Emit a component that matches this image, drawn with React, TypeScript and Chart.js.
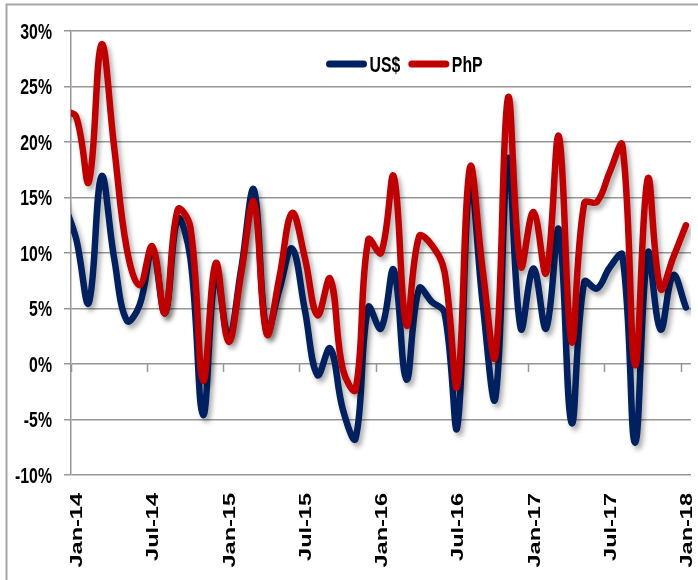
import React, { useEffect, useRef } from 'react';
import { Chart, registerables } from 'chart.js';

Chart.register(...registerables);

// Monthly categories (data points sit mid-month; Dec-13 lies just left of the plot edge)
const MONTHS = [
  'Dec-13',
  'Jan-14', 'Feb-14', 'Mar-14', 'Apr-14', 'May-14', 'Jun-14', 'Jul-14', 'Aug-14', 'Sep-14', 'Oct-14', 'Nov-14', 'Dec-14',
  'Jan-15', 'Feb-15', 'Mar-15', 'Apr-15', 'May-15', 'Jun-15', 'Jul-15', 'Aug-15', 'Sep-15', 'Oct-15', 'Nov-15', 'Dec-15',
  'Jan-16', 'Feb-16', 'Mar-16', 'Apr-16', 'May-16', 'Jun-16', 'Jul-16', 'Aug-16', 'Sep-16', 'Oct-16', 'Nov-16', 'Dec-16',
  'Jan-17', 'Feb-17', 'Mar-17', 'Apr-17', 'May-17', 'Jun-17', 'Jul-17', 'Aug-17', 'Sep-17', 'Oct-17', 'Nov-17', 'Dec-17',
  'Jan-18',
];

const US_DOLLAR = [
  14.6,
  11.3, 5.5, 16.9, 9.5, 3.9, 5.3, 10.2, 4.6, 13.1, 9.5, -4.6, 8.3,
  2.5, 8.6, 15.7, 2.9, 6.7, 10.4, 4.9, -1.0, 1.4, -4.1, -6.7, 5.1,
  3.2, 8.5, -1.4, 6.8, 5.6, 4.6, -5.7, 16.6, 5.5, -3.1, 18.5, 3.2,
  8.6, 3.2, 12.1, -5.3, 7.4, 6.8, 8.7, 9.8, -7.1, 10.0, 3.1, 8.0,
  5.1,
];

const PHP = [
  22.8,
  22.3, 16.4, 28.8, 19.5, 10.3, 7.1, 10.6, 4.6, 13.9, 12.3, -1.5, 9.1,
  2.0, 8.2, 14.6, 2.7, 7.8, 13.6, 9.6, 4.4, 7.7, -0.5, -2.3, 11.2,
  10.0, 16.9, 3.5, 11.5, 10.7, 8.3, -2.0, 17.7, 8.5, 0.7, 24.0, 8.8,
  13.7, 8.2, 20.5, 2.0, 14.5, 14.6, 17.3, 19.7, -0.1, 16.7, 6.8, 9.6,
  12.5,
];

const X_TICK_LABELS = ['Jan-14', 'Jul-14', 'Jan-15', 'Jul-15', 'Jan-16', 'Jul-16', 'Jan-17', 'Jul-17', 'Jan-18'];
const Y_TICKS = [-10, -5, 0, 5, 10, 15, 20, 25, 30];

const SERIES_NAMES = ['US$', 'PhP'];
const SERIES_COLORS = ['#002060', '#C00000'];

const FONT = '"Liberation Sans", Arial, sans-serif';
const SQUASH = 0.72;
const GRID = '#969696';

const decorPlugin = {
  id: 'decor',
  beforeDraw(chart: any) {
    const ctx = chart.ctx;
    ctx.save();
    ctx.strokeStyle = '#a6a6a6';
    ctx.lineWidth = 2;
    ctx.beginPath();
    ctx.moveTo(6.5, chart.height);
    ctx.lineTo(6.5, 4.5);
    ctx.lineTo(chart.width, 4.5);
    ctx.stroke();
    ctx.restore();
  },
  beforeDatasetDraw(chart: any) {
    const ctx = chart.ctx;
    ctx.save();
    ctx.shadowColor = 'rgba(0,0,0,0.32)';
    ctx.shadowBlur = 5;
    ctx.shadowOffsetX = 3;
    ctx.shadowOffsetY = 4;
  },
  afterDatasetDraw(chart: any) {
    chart.ctx.restore();
  },
  beforeDatasetsDraw(chart: any) {
    // x-axis tick marks on the 0% line, at month starts
    const ctx = chart.ctx;
    const xs = chart.scales.x;
    const ys = chart.scales.y;
    const y0 = ys.getPixelForValue(0);
    ctx.save();
    ctx.strokeStyle = GRID;
    ctx.lineWidth = 1.5;
    X_TICK_LABELS.forEach((lab) => {
      const idx = MONTHS.indexOf(lab);
      const px = Math.round(xs.getPixelForValue(idx - 0.42)) + 0.5;
      ctx.beginPath();
      ctx.moveTo(px, y0);
      ctx.lineTo(px, y0 + 8);
      ctx.stroke();
    });
    ctx.restore();
  },
  afterDraw(chart: any) {
    const ctx = chart.ctx;
    const xs = chart.scales.x;
    const ys = chart.scales.y;
    const area = chart.chartArea;
    const size = 22;
    const cap = 0.716 * size;

    // y labels
    ctx.save();
    ctx.fillStyle = '#000';
    ctx.font = `bold ${size}px ${FONT}`;
    ctx.textAlign = 'right';
    ctx.textBaseline = 'alphabetic';
    Y_TICKS.forEach((v) => {
      const py = ys.getPixelForValue(v);
      ctx.save();
      ctx.translate(area.left - 19, py + cap / 2);
      ctx.scale(SQUASH, 1);
      ctx.fillText(`${v}%`, 0, 0);
      ctx.restore();
    });
    ctx.restore();

    // x labels (rotated)
    const xsize = 23.5;
    ctx.save();
    ctx.fillStyle = '#000';
    ctx.font = `bold ${xsize}px ${FONT}`;
    ctx.textAlign = 'right';
    ctx.textBaseline = 'alphabetic';
    X_TICK_LABELS.forEach((lab) => {
      const idx = MONTHS.indexOf(lab);
      const px = xs.getPixelForValue(idx);
      ctx.save();
      ctx.translate(px, area.bottom + 18);
      ctx.rotate(-Math.PI / 2);
      ctx.scale(1, SQUASH);
      ctx.fillText(lab, 0, 0.358 * xsize);
      ctx.restore();
    });
    ctx.restore();

    // legend inside plot area
    ctx.save();
    ctx.font = `bold ${size}px ${FONT}`;
    ctx.textAlign = 'left';
    ctx.textBaseline = 'alphabetic';
    const ly = area.top + 33;
    let x = area.left + 258.5;
    SERIES_NAMES.forEach((name, i) => {
      ctx.strokeStyle = SERIES_COLORS[i];
      ctx.lineWidth = 7;
      ctx.lineCap = 'round';
      ctx.beginPath();
      ctx.moveTo(x, ly);
      ctx.lineTo(x + 34, ly);
      ctx.stroke();
      const tx = x + 34 + 6;
      ctx.save();
      ctx.translate(tx, ly + cap / 2);
      ctx.scale(SQUASH, 1);
      ctx.fillStyle = '#000';
      ctx.fillText(name, 0, 0);
      const w = ctx.measureText(name).width * SQUASH;
      ctx.restore();
      x = tx + w + 11.5;
    });
    ctx.restore();
  },
};

export default function App() {
  const ref = useRef<HTMLCanvasElement | null>(null);

  useEffect(() => {
    const canvas = ref.current;
    if (!canvas) return;
    const series = [US_DOLLAR, PHP];
    const chart = new Chart(canvas, {
      type: 'line',
      data: {
        datasets: series.map((vals, i) => ({
          label: SERIES_NAMES[i],
          data: vals.map((v, k) => ({ x: k, y: v })),
          borderColor: SERIES_COLORS[i],
          backgroundColor: SERIES_COLORS[i],
          borderWidth: 6.5,
          tension: 0.4,
          pointRadius: 0,
          pointHoverRadius: 0,
          borderCapStyle: 'round',
          borderJoinStyle: 'round',
          fill: false,
          clip: 0,
          order: i === 1 ? 0 : 1,
        })),
      },
      options: {
        responsive: false,
        animation: false,
        events: [],
        layout: { padding: { left: 0, top: 31, right: 7, bottom: 105 } },
        plugins: {
          legend: { display: false },
          tooltip: { enabled: false },
        },
        scales: {
          x: {
            type: 'linear',
            display: false,
            min: 0.6,
            max: 49.4,
          },
          y: {
            type: 'linear',
            min: -10,
            max: 30,
            ticks: { stepSize: 5, display: false },
            grid: { color: GRID, lineWidth: 1.5, tickLength: 7, tickColor: GRID },
            border: { color: GRID, width: 1.5 },
            afterFit: (s: any) => {
              s.width = 71;
            },
          },
        },
      },
      plugins: [decorPlugin],
    });
    return () => chart.destroy();
  }, []);

  return (
    <div style={{ position: 'absolute', left: 0, top: 0, width: 698, height: 580, background: '#fff' }}>
      <canvas ref={ref} width={698} height={580} style={{ display: 'block' }} />
    </div>
  );
}
